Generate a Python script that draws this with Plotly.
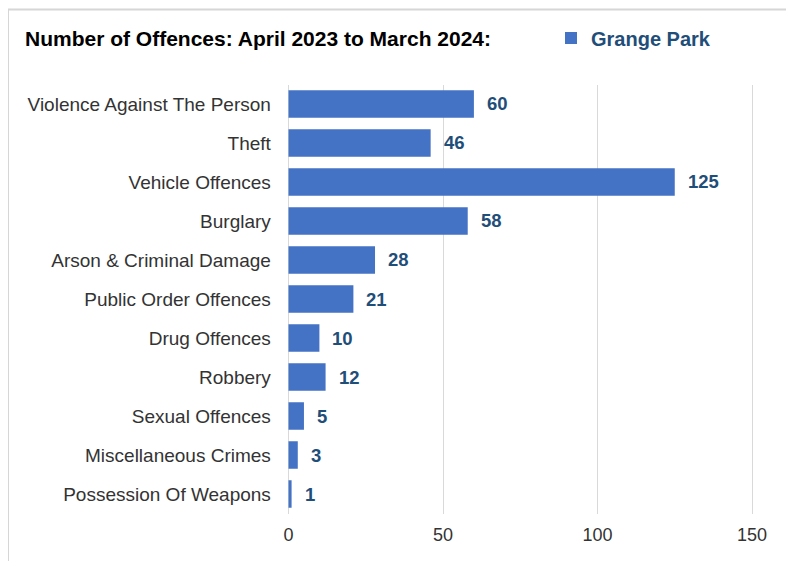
import plotly.graph_objects as go

categories = ["Violence Against The Person", "Theft", "Vehicle Offences", "Burglary",
              "Arson & Criminal Damage", "Public Order Offences", "Drug Offences",
              "Robbery", "Sexual Offences", "Miscellaneous Crimes", "Possession Of Weapons"]
values = [60, 46, 125, 58, 28, 21, 10, 12, 5, 3, 1]
series_name = "Grange Park"
title_text = "Number of Offences: April 2023 to March 2024:"
x_ticks = [0, 50, 100, 150]

# page body has an 8px margin; figure coords = screen coords - 8
OFF = 8
W, H = 786, 553
FONT = "Liberation Sans, Arial, sans-serif"
BAR = "#4472C4"
LBL = "#1F4E79"
TXT = "#333333"

px = lambda v: (v - OFF) / W
py = lambda v: 1 - (v - OFF) / H

# axis: 0 at screen 288.5, 150 at 752 -> extend range so edge gridlines render
scale = (752 - 288.5) / 150
lo, hi = -1.5, 153
x_left = 288.5 + lo * scale
x_right = 288.5 + hi * scale

fig = go.Figure()
fig.add_trace(go.Bar(
    x=values, y=categories, orientation="h", name=series_name,
    marker=dict(color=BAR, line=dict(width=0)),
    showlegend=True,
))

for c, v in zip(categories, values):
    fig.add_annotation(x=v, y=c, xref="x", yref="y", text=f"<b>{v}</b>",
                       showarrow=False, xanchor="left", xshift=11,
                       font=dict(family=FONT, size=18.5, color=LBL))

fig.add_annotation(x=px(23), y=py(38), xref="paper", yref="paper",
                   text=f"<b>{title_text}</b>", showarrow=False,
                   xanchor="left", yanchor="middle",
                   font=dict(family=FONT, size=21, color="#000000"))

# outer chart frame (top and left edges visible)
fig.add_shape(type="line", xref="paper", yref="paper",
              x0=px(8), x1=px(8), y0=py(570), y1=py(9),
              line=dict(color="#D6D6D6", width=2), layer="above")
fig.add_shape(type="line", xref="paper", yref="paper",
              x0=px(8), x1=px(800), y0=py(9.5), y1=py(9.5),
              line=dict(color="#D6D6D6", width=2), layer="above")

fig.update_layout(
    width=W, height=H,
    margin=dict(l=0, r=0, t=0, b=0),
    paper_bgcolor="white", plot_bgcolor="white",
    bargap=0.29,
    font=dict(family=FONT, size=19, color=TXT),
    showlegend=True,
    legend=dict(x=px(551), y=py(38), xanchor="left", yanchor="middle",
                font=dict(family=FONT, size=20, color=LBL, weight="bold"),
                itemwidth=30, bgcolor="rgba(0,0,0,0)", borderwidth=0),
    xaxis=dict(domain=[px(x_left), px(x_right)], range=[lo, hi], tickvals=x_ticks,
               showgrid=True, gridcolor="#D9D9D9", gridwidth=1,
               zeroline=True, zerolinecolor="#D9D9D9", zerolinewidth=1,
               showline=False, automargin=False,
               tickfont=dict(family=FONT, size=18, color=TXT),
               ticks="", ticklabelstandoff=8),
    yaxis=dict(domain=[py(513.5), py(84.5)], categoryorder="array",
               categoryarray=categories[::-1],
               showgrid=False, zeroline=False, showline=False, automargin=False,
               tickfont=dict(family=FONT, size=19, color=TXT),
               ticks="", ticklabelstandoff=12),
)

fig.write_html("out.html")
